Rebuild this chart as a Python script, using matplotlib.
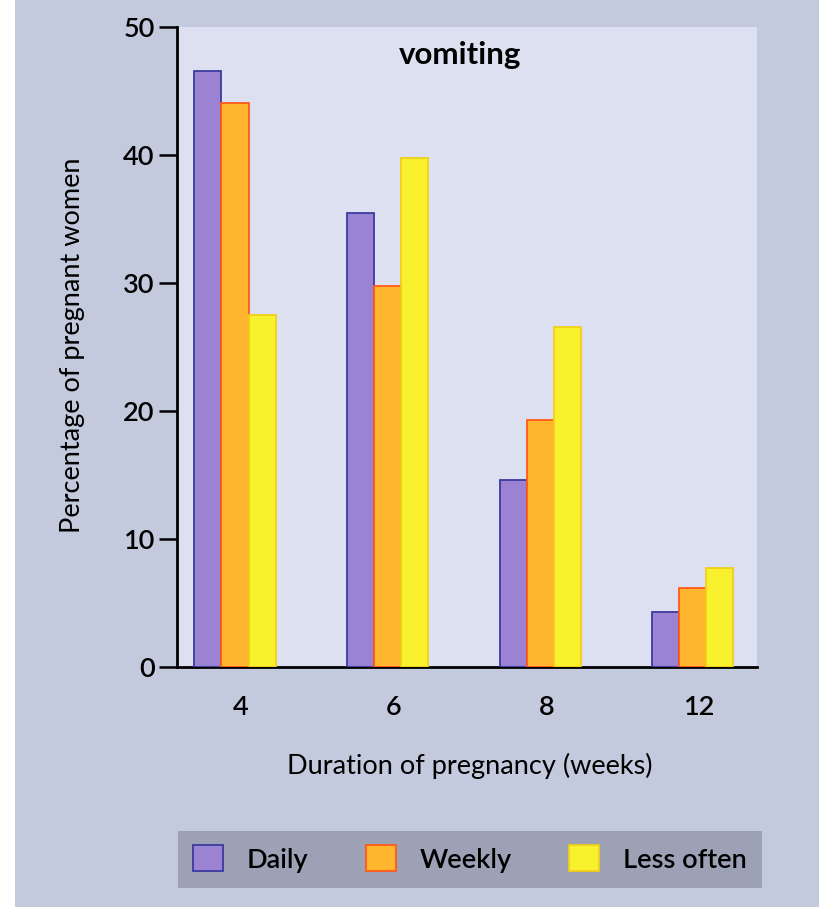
import matplotlib
matplotlib.use("Agg")
import matplotlib.pyplot as plt
from matplotlib.patches import Rectangle
import numpy as np

plt.rcParams['font.family'] = ['Lato', 'DejaVu Sans']
plt.rcParams['font.weight'] = 'semibold'

# Data
weeks = ["4", "6", "8", "12"]
series_names = ["Daily", "Weekly", "Less often"]
daily = [46.6, 35.5, 14.6, 4.3]
weekly = [44.1, 29.8, 19.3, 6.2]
less_often = [27.5, 39.8, 26.6, 7.7]

face_colors = ["#9b82d2", "#ffb52e", "#f9f02e"]
edge_colors = ["#3b3ba0", "#ff5a1a", "#f0cf1a"]

FS = 19.5

fig = plt.figure(figsize=(8.19, 9.07), dpi=100, facecolor="#c4cadd")

# white margin strip on the left
fig.patches.append(Rectangle((0, 0), 15 / 819, 1, transform=fig.transFigure,
                             facecolor="white", edgecolor="none", zorder=0))

ax = fig.add_axes([177 / 819, 1 - 667 / 907, 580 / 819, 640 / 907])
ax.set_facecolor("#dde0f0")

x = np.arange(len(weeks))
width = 0.177
handles = []
for i, vals in enumerate([daily, weekly, less_often]):
    b = ax.bar(x + (i - 1) * width, vals, width, color=face_colors[i],
               edgecolor=edge_colors[i], linewidth=1.3, label=series_names[i],
               zorder=3)
    handles.append(b)

ax.set_xlim(-0.38, 3.42)
ax.set_ylim(0, 50)
ax.set_yticks([0, 10, 20, 30, 40, 50])
ax.set_xticks(x + 0.04)
ax.set_xticklabels(weeks)

for s in ["top", "right"]:
    ax.spines[s].set_visible(False)
for s in ["left", "bottom"]:
    ax.spines[s].set_linewidth(2.0)
    ax.spines[s].set_color("black")

ax.tick_params(axis="y", length=13, width=1.8, labelsize=FS, pad=3, color="black")
ax.tick_params(axis="x", length=0, labelsize=FS, pad=20)

ax.set_ylabel("Percentage of pregnant women", fontsize=FS)
ax.yaxis.set_label_coords(-0.158, 0.503)
ax.set_xlabel("Duration of pregnancy (weeks)", fontsize=FS)
ax.xaxis.set_label_coords(0.505, -0.134)

ax.text(0.488, 0.956, "vomiting", transform=ax.transAxes, ha="center",
        va="center", fontsize=22.5, fontweight="bold")

leg = fig.legend(handles=handles, labels=series_names, loc="center",
                 bbox_to_anchor=(178 / 819, 1 - 890 / 907, 584 / 819, 62 / 907),
                 mode="expand", ncol=3, frameon=True, fancybox=False,
                 facecolor="#9ca1b6", edgecolor="none", framealpha=1,
                 fontsize=FS, handlelength=1.1, handleheight=1.1,
                 handletextpad=0.9, borderaxespad=0, borderpad=0.55)

fig.savefig("out.png", dpi=100, facecolor=fig.get_facecolor())
